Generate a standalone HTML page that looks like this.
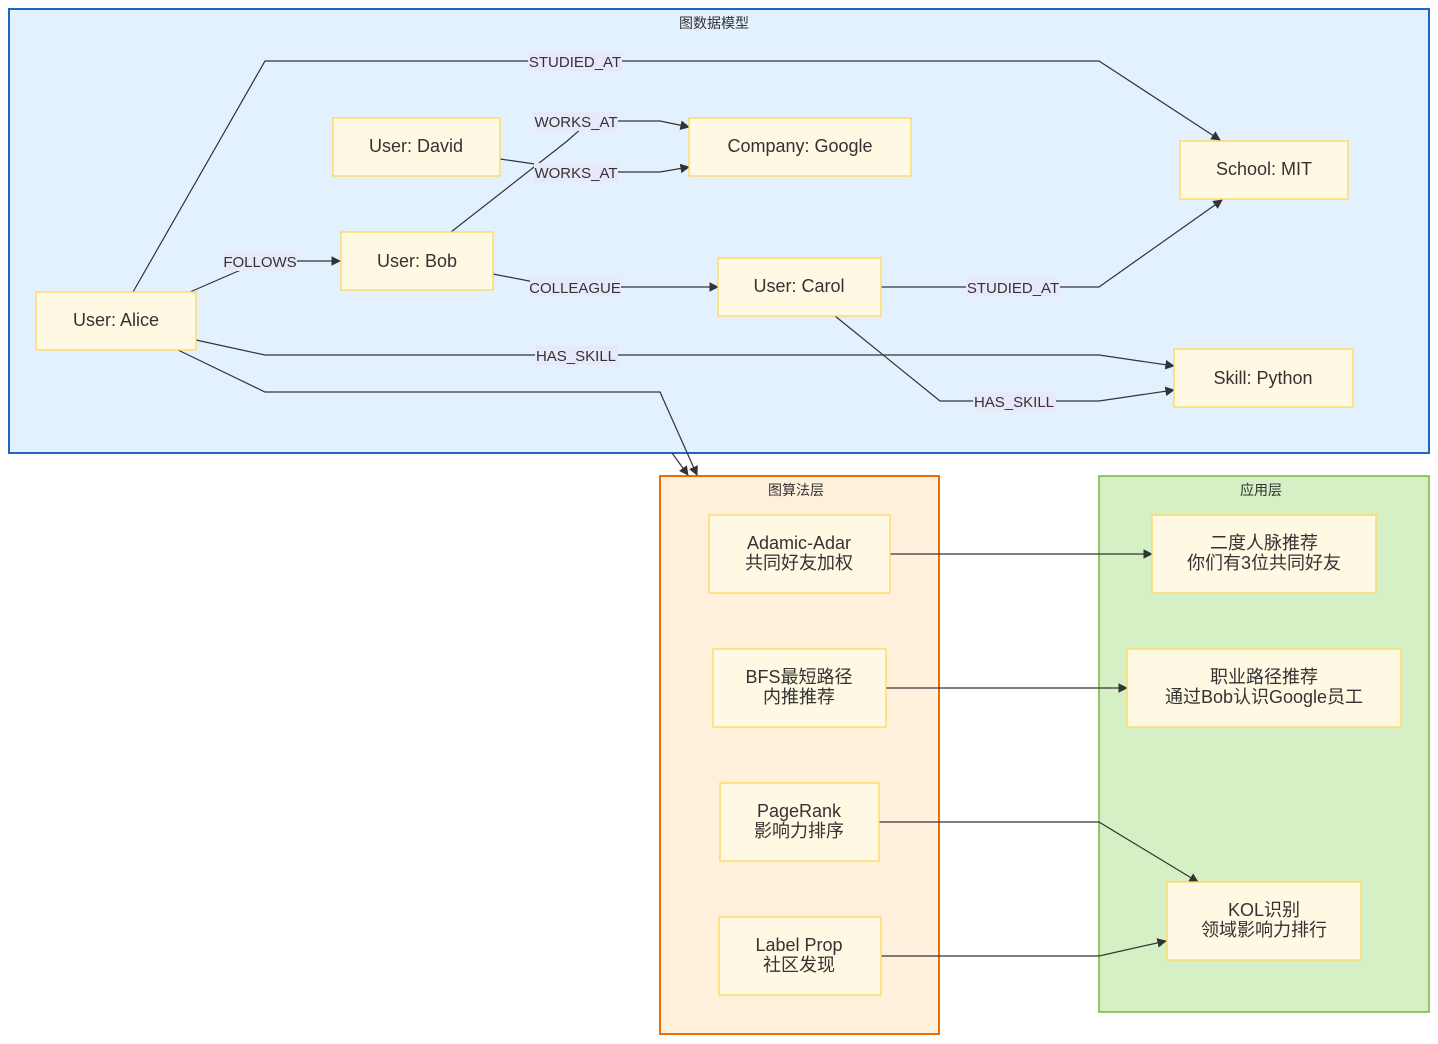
<!DOCTYPE html>
<html><head><meta charset="utf-8"><style>
html,body{margin:0;padding:0;background:#fff;}
svg{display:block;}
text{font-family:"Liberation Sans","Noto Sans CJK SC",sans-serif;fill:#333;}
.n{fill:#fff8e3;stroke:#ffd75e;stroke-width:1.3;}
.e{fill:none;stroke:#333;stroke-width:1.2;marker-end:url(#a);}
.el{fill:none;stroke:#333;stroke-width:1.2;}
.lb{fill:#e8e8fb;}
.nt{font-size:18px;text-anchor:middle;}
.lt{font-size:15px;text-anchor:middle;}
.ct{font-size:14px;text-anchor:middle;}
</style></head><body>
<svg width="1438" height="1044" viewBox="0 0 1438 1044" xmlns="http://www.w3.org/2000/svg">
<defs><marker id="a" viewBox="0 0 10 10" refX="9" refY="5" markerWidth="8" markerHeight="8" orient="auto"><path d="M0,0L10,5L0,10z" fill="#333"/></marker></defs>
<rect x="9" y="9" width="1420" height="444" fill="#e3f0fd" stroke="#1e66c4" stroke-width="2"/>
<rect x="660" y="476" width="279" height="558" fill="#fff0dc" stroke="#ef6c00" stroke-width="2"/>
<rect x="1099" y="476" width="330" height="536" fill="#d4f0c4" stroke="#7cb342" stroke-width="1.5"/>
<text class="ct" x="714" y="28">图数据模型</text>
<text class="ct" x="796" y="495">图算法层</text>
<text class="ct" x="1261" y="495">应用层</text>

<!-- edges -->
<polyline class="e" points="133,292 265,61 1099,61 1220,140"/>
<polyline class="e" points="190,292 236,272 265,261 340,261"/>
<polyline class="e" points="451,232 566,142 590,121 660,121 689,127"/>
<polyline class="e" points="500,159 590,172 660,172 689,167"/>
<polyline class="e" points="493,274 560,287 718,287"/>
<polyline class="e" points="881,287 1099,287 1222,200"/>
<polyline class="e" points="196,340 265,355 1099,355 1174,366"/>
<polyline class="e" points="835,316 940,401 1099,401 1174,390"/>
<polyline class="e" points="178,350 265,392 660,392 697,475"/>
<polyline class="e" points="672,453 688,475"/>
<polyline class="e" points="890,554 1152,554"/>
<polyline class="e" points="886,688 1127,688"/>
<polyline class="e" points="879,822 1099,822 1198,882"/>
<polyline class="e" points="881,956 1099,956 1166,941"/>

<!-- edge labels -->
<rect class="lb" x="528" y="52" width="94" height="19"/><text class="lt" x="575" y="67">STUDIED_AT</text>
<rect class="lb" x="224" y="252" width="73" height="19"/><text class="lt" x="260" y="267">FOLLOWS</text>
<rect class="lb" x="534" y="112" width="84" height="19"/><text class="lt" x="576" y="127">WORKS_AT</text>
<rect class="lb" x="534" y="163" width="84" height="19"/><text class="lt" x="576" y="178">WORKS_AT</text>
<rect class="lb" x="530" y="278" width="91" height="19"/><text class="lt" x="575" y="293">COLLEAGUE</text>
<rect class="lb" x="966" y="278" width="94" height="19"/><text class="lt" x="1013" y="293">STUDIED_AT</text>
<rect class="lb" x="535" y="346" width="83" height="19"/><text class="lt" x="576" y="361">HAS_SKILL</text>
<rect class="lb" x="973" y="392" width="83" height="19"/><text class="lt" x="1014" y="407">HAS_SKILL</text>

<!-- nodes -->
<rect class="n" x="36" y="292" width="160" height="58"/><text class="nt" x="116" y="326">User: Alice</text>
<rect class="n" x="333" y="118" width="167" height="58"/><text class="nt" x="416" y="152">User: David</text>
<rect class="n" x="341" y="232" width="152" height="58"/><text class="nt" x="417" y="267">User: Bob</text>
<rect class="n" x="689" y="118" width="222" height="58"/><text class="nt" x="800" y="152">Company: Google</text>
<rect class="n" x="718" y="258" width="163" height="58"/><text class="nt" x="799" y="292">User: Carol</text>
<rect class="n" x="1180" y="141" width="168" height="58"/><text class="nt" x="1264" y="175">School: MIT</text>
<rect class="n" x="1174" y="349" width="179" height="58"/><text class="nt" x="1263" y="384">Skill: Python</text>

<rect class="n" x="709" y="515" width="181" height="78"/><text class="nt" x="799" y="549">Adamic-Adar</text><text class="nt" x="799" y="569">共同好友加权</text>
<rect class="n" x="713" y="649" width="173" height="78"/><text class="nt" x="799" y="683">BFS最短路径</text><text class="nt" x="799" y="703">内推推荐</text>
<rect class="n" x="720" y="783" width="159" height="78"/><text class="nt" x="799" y="817">PageRank</text><text class="nt" x="799" y="837">影响力排序</text>
<rect class="n" x="719" y="917" width="162" height="78"/><text class="nt" x="799" y="951">Label Prop</text><text class="nt" x="799" y="971">社区发现</text>

<rect class="n" x="1152" y="515" width="224" height="78"/><text class="nt" x="1264" y="549">二度人脉推荐</text><text class="nt" x="1264" y="569">你们有3位共同好友</text>
<rect class="n" x="1127" y="649" width="274" height="78"/><text class="nt" x="1264" y="683">职业路径推荐</text><text class="nt" x="1264" y="703">通过Bob认识Google员工</text>
<rect class="n" x="1167" y="882" width="194" height="78"/><text class="nt" x="1264" y="916">KOL识别</text><text class="nt" x="1264" y="936">领域影响力排行</text>
</svg>
</body></html>
